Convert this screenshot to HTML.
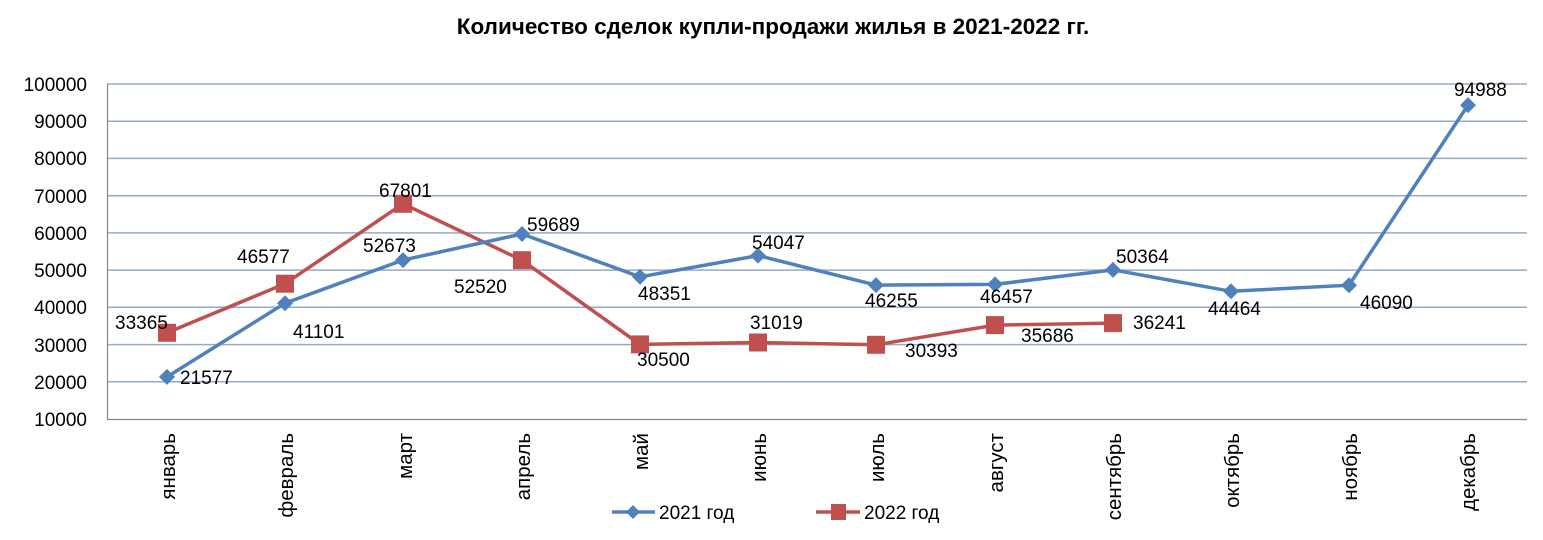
<!DOCTYPE html>
<html><head><meta charset="utf-8"><style>
html,body{margin:0;padding:0;background:#fff;}
svg text{font-family:"Liberation Sans",Arial,sans-serif;}
</style></head><body>
<svg width="1543" height="535" xmlns="http://www.w3.org/2000/svg">
<text x="773" y="34" text-anchor="middle" font-size="22.5" font-weight="bold" fill="#000">Количество сделок купли-продажи жилья в 2021-2022 гг.</text>
<g stroke="#95A9CC" stroke-width="1.5">
<line x1="107" y1="84" x2="1527" y2="84"/>
<line x1="107" y1="121.2" x2="1527" y2="121.2"/>
<line x1="107" y1="158.4" x2="1527" y2="158.4"/>
<line x1="107" y1="195.7" x2="1527" y2="195.7"/>
<line x1="107" y1="232.9" x2="1527" y2="232.9"/>
<line x1="107" y1="270.1" x2="1527" y2="270.1"/>
<line x1="107" y1="307.3" x2="1527" y2="307.3"/>
<line x1="107" y1="344.6" x2="1527" y2="344.6"/>
<line x1="107" y1="381.8" x2="1527" y2="381.8"/>
</g>
<line x1="107.5" y1="84" x2="107.5" y2="419" stroke="#888" stroke-width="1.2"/>
<line x1="107" y1="419.5" x2="1527" y2="419.5" stroke="#888" stroke-width="1.2"/>
<g font-size="19" text-anchor="end" fill="#000">
<text x="87" y="91">100000</text><text x="87" y="128">90000</text><text x="87" y="165">80000</text><text x="87" y="203">70000</text><text x="87" y="240">60000</text><text x="87" y="277">50000</text><text x="87" y="314">40000</text><text x="87" y="352">30000</text><text x="87" y="389">20000</text><text x="87" y="426">10000</text>
</g>
<g font-size="20.5" text-anchor="end" fill="#000">
<text transform="translate(175,433) rotate(-90)">январь</text>
<text transform="translate(293,433) rotate(-90)">февраль</text>
<text transform="translate(412,433) rotate(-90)">март</text>
<text transform="translate(530,433) rotate(-90)">апрель</text>
<text transform="translate(648,433) rotate(-90)">май</text>
<text transform="translate(766,433) rotate(-90)">июнь</text>
<text transform="translate(884,433) rotate(-90)">июль</text>
<text transform="translate(1003,433) rotate(-90)">август</text>
<text transform="translate(1121,433) rotate(-90)">сентябрь</text>
<text transform="translate(1239,433) rotate(-90)">октябрь</text>
<text transform="translate(1357,433) rotate(-90)">ноябрь</text>
<text transform="translate(1475,433) rotate(-90)">декабрь</text>
</g>
<polyline fill="none" stroke="#C0504D" stroke-width="3.5" points="167,332.8 285,283.7 403,203.8 522,260.2 640,344.4 758,342.5 876,344.8 995,325.1 1113,323.1"/>
<g fill="#C0504D">
<rect x="158" y="323.8" width="18" height="18"/><rect x="276" y="274.7" width="18" height="18"/><rect x="394" y="194.8" width="18" height="18"/><rect x="513" y="251.2" width="18" height="18"/><rect x="631" y="335.4" width="18" height="18"/><rect x="749" y="333.5" width="18" height="18"/><rect x="867" y="335.8" width="18" height="18"/><rect x="986" y="316.1" width="18" height="18"/><rect x="1104" y="314.1" width="18" height="18"/>
</g>
<polyline fill="none" stroke="#4F81BD" stroke-width="3.5" points="167,376.9 285,303.2 403,260.1 522,234 640,276.8 758,255.6 876,285.1 995,284.4 1113,269.9 1231,291.3 1349,285.2 1468,105.1"/>
<g fill="#4F81BD">
<path d="M167,368.9l8,8-8,8-8-8z M285,295.2l8,8-8,8-8-8z M403,252.1l8,8-8,8-8-8z M522,226l8,8-8,8-8-8z M640,268.8l8,8-8,8-8-8z M758,247.6l8,8-8,8-8-8z M876,277.1l8,8-8,8-8-8z M995,276.4l8,8-8,8-8-8z M1113,261.9l8,8-8,8-8-8z M1231,283.3l8,8-8,8-8-8z M1349,277.2l8,8-8,8-8-8z M1468,97.1l8,8-8,8-8-8z"/>
</g>
<g font-size="19" fill="#000">
<text x="180" y="384">21577</text><text x="293" y="338">41101</text><text x="363" y="252">52673</text><text x="527" y="231">59689</text><text x="638" y="300">48351</text><text x="752" y="249">54047</text><text x="865" y="307">46255</text><text x="980" y="303">46457</text><text x="1116" y="263">50364</text><text x="1208" y="315">44464</text><text x="1360" y="309">46090</text><text x="1454" y="96">94988</text>
<text x="115" y="329">33365</text><text x="237" y="263">46577</text><text x="379" y="197">67801</text><text x="454" y="293">52520</text><text x="637" y="366">30500</text><text x="750" y="329">31019</text><text x="905" y="357">30393</text><text x="1021" y="342">35686</text><text x="1133" y="329">36241</text>
</g>
<line x1="612" y1="512" x2="655" y2="512" stroke="#4F81BD" stroke-width="3.5"/>
<path d="M633,505l7,7-7,7-7-7z" fill="#4F81BD"/>
<text x="659" y="519" font-size="19">2021 год</text>
<line x1="816" y1="512" x2="860" y2="512" stroke="#C0504D" stroke-width="3.5"/>
<rect x="831" y="504" width="15" height="16" fill="#C0504D"/>
<text x="864" y="519" font-size="19">2022 год</text>
</svg>
</body></html>
